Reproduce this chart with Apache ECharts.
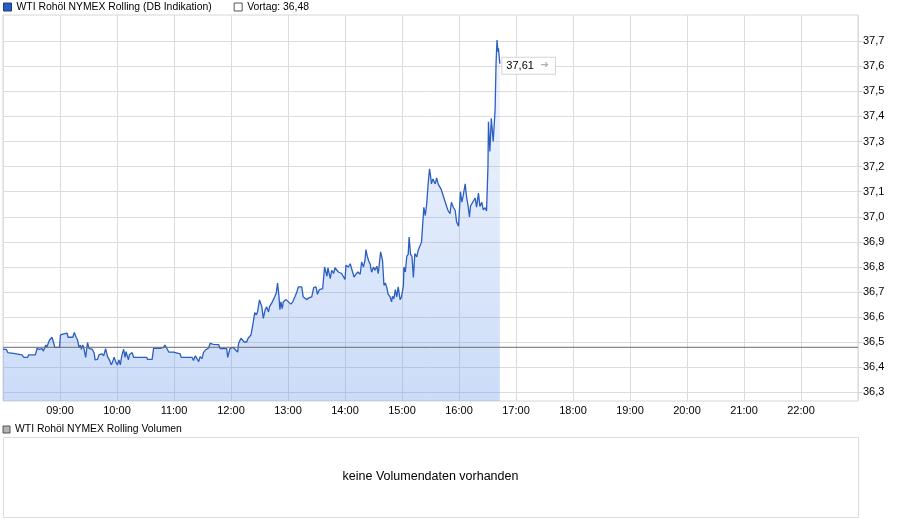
<!DOCTYPE html>
<html>
<head>
<meta charset="utf-8">
<title>WTI Rohöl NYMEX Rolling</title>
<script src="https://cdn.jsdelivr.net/npm/echarts@6/dist/echarts.min.js"></script>
<style>
  html, body { margin: 0; padding: 0; background: #fff; }
  #chart { width: 900px; height: 526px; }
</style>
</head>
<body>
<div id="chart"></div>
<script>
// Minuten nach 08:00 und Kurs
const minutes = [
  0, 3.5, 5, 11, 13, 20, 22, 26, 27, 34, 36, 38.5, 41, 42.5, 45, 46, 49, 51.5, 53.5, 54.5,
  59.5, 60.5, 64, 66, 67.5, 68.5, 73.5, 75, 77, 78.5, 80, 81.5, 82.5, 84, 85.5, 87, 89, 90.5, 92, 94,
  96, 97, 99.5, 101, 104, 106, 108, 110, 112, 114, 115.5, 117, 119, 120.5, 122, 123.5, 125, 127, 128.5, 129.5,
  132, 133, 134.5, 136, 137.5, 151.5, 152, 157, 158.5, 162, 163.5, 165.5, 167, 169, 170.5, 172.5, 174.5, 179.5, 181.5, 186.5,
  187.5, 199, 200.5, 202.5, 204, 206, 207.5, 209.5, 211, 213, 214.5, 216.5, 218, 219.5, 221.5, 227, 228.5, 235.5, 236.5, 239,
  242.5, 244, 245.5, 247, 248, 250.5, 252.5, 254, 256.5, 258, 259.5, 261, 262, 263.5, 265, 266.5, 268, 270,
  272.5, 274, 276, 277.5, 279.5, 280.5, 282, 283.5, 284.5, 286, 287.5, 289, 290.5, 291.5, 292.5, 294, 295, 298, 300.5, 303,
  305, 307.5, 309, 311, 314.5, 316, 319.5, 322.5, 325, 327, 329.5, 331, 333, 334.5, 336.5, 338.5, 341, 342, 344.5, 346,
  348, 349.5, 351.5, 353, 355, 356.5, 358.5, 360, 361, 363.5, 365.5, 367, 369.5, 371.5, 373.5, 376, 377.5, 379.5, 381, 382,
  383.5, 385, 386.5, 388, 390, 391.5, 393.5, 395, 396, 397.5, 399.5, 401, 402.5, 404, 405.5, 407.5, 409, 410, 411.5, 413,
  414.5, 416, 418, 419.5, 421.5, 422, 423.5, 425, 426.5, 427.5, 429, 430.5, 432, 433.5, 435.5, 437, 439, 440.5, 441.5, 443,
  444.5, 446, 447.5, 449, 450, 451, 452.5, 453.5, 455, 456.5, 458, 460, 461.5, 463.5, 465, 467, 468.5, 470.5, 472, 474,
  476, 477.5, 479.5, 480.5, 481.5, 483, 484.5, 486.5, 488, 489.5, 491, 492, 493.5, 495, 497, 498.5, 500.5, 502, 504, 505.5,
  507.5, 509, 510, 510.5, 511, 512.5, 514, 514.5, 516, 518, 519, 520, 521, 521.5, 523
];
const prices = [
  36.473, 36.472, 36.459, 36.456, 36.451, 36.45, 36.44, 36.44, 36.45, 36.45, 36.476, 36.472, 36.475, 36.465, 36.489, 36.48, 36.509, 36.52, 36.496, 36.48,
  36.48, 36.529, 36.533, 36.54, 36.536, 36.52, 36.52, 36.539, 36.52, 36.509, 36.48, 36.489, 36.472, 36.489, 36.469, 36.44, 36.499, 36.476, 36.469, 36.472,
  36.456, 36.43, 36.432, 36.45, 36.454, 36.446, 36.475, 36.443, 36.43, 36.41, 36.423, 36.44, 36.419, 36.41, 36.43, 36.41, 36.446, 36.472, 36.44, 36.463,
  36.43, 36.45, 36.446, 36.459, 36.44, 36.44, 36.432, 36.432, 36.476, 36.476, 36.469, 36.476, 36.472, 36.48, 36.489, 36.475, 36.461, 36.461, 36.456, 36.454,
  36.44, 36.44, 36.427, 36.446, 36.436, 36.423, 36.443, 36.435, 36.459, 36.469, 36.472, 36.477, 36.496, 36.489, 36.492, 36.491, 36.475, 36.475, 36.44, 36.476,
  36.48, 36.472, 36.467, 36.461, 36.496, 36.516, 36.52, 36.501, 36.501, 36.516, 36.512, 36.529, 36.549, 36.582, 36.618, 36.609, 36.622, 36.669,
  36.641, 36.595, 36.63, 36.641, 36.621, 36.641, 36.638, 36.661, 36.668, 36.681, 36.694, 36.736, 36.683, 36.63, 36.661, 36.634, 36.661, 36.67, 36.661, 36.652,
  36.661, 36.683, 36.697, 36.721, 36.721, 36.681, 36.67, 36.678, 36.681, 36.718, 36.721, 36.691, 36.71, 36.707, 36.714, 36.8, 36.763, 36.797, 36.754, 36.787,
  36.774, 36.797, 36.793, 36.78, 36.787, 36.774, 36.771, 36.75, 36.807, 36.8, 36.813, 36.793, 36.76, 36.771, 36.78, 36.771, 36.82, 36.8, 36.826, 36.869,
  36.842, 36.824, 36.811, 36.779, 36.8, 36.787, 36.803, 36.774, 36.776, 36.86, 36.826, 36.727, 36.736, 36.718, 36.691, 36.681, 36.661, 36.683, 36.674, 36.71,
  36.681, 36.721, 36.67, 36.681, 36.727, 36.8, 36.78, 36.842, 36.85, 36.919, 36.85, 36.842, 36.758, 36.853, 36.84, 36.866, 36.869, 36.899, 36.952, 37.038,
  37.005, 37.052, 37.131, 37.191, 37.164, 37.131, 37.151, 37.142, 37.131, 37.155, 37.131, 37.131, 37.107, 37.102, 37.065, 37.041, 37.025, 37.012, 37.058, 37.038,
  37.025, 36.979, 36.962, 37.028, 37.1, 37.058, 37.085, 37.131, 37.078, 37.045, 36.999, 37.041, 37.052, 37.045, 37.075, 37.038, 37.094, 37.041, 37.058, 37.028,
  37.036, 37.023, 37.019, 37.2, 37.379, 37.26, 37.392, 37.396, 37.3, 37.426, 37.611, 37.704, 37.658, 37.671, 37.61
];
const prevClose = 36.48;
const yTicks = [36.3, 36.4, 36.5, 36.6, 36.7, 36.8, 36.9, 37.0, 37.1, 37.2, 37.3, 37.4, 37.5, 37.6, 37.7];
const hourLabels = ['09:00', '10:00', '11:00', '12:00', '13:00', '14:00', '15:00', '16:00', '17:00', '18:00', '19:00', '20:00', '21:00', '22:00'];

const FONT = '"Liberation Sans", Arial, sans-serif';
const START = 8 * 60; // 08:00

function toMin(s) {
  const p = s.split(':');
  return +p[0] * 60 + +p[1];
}
function fmtTime(v) {
  const h = Math.floor(v / 60), m = v % 60;
  return (h < 10 ? '0' : '') + h + ':' + (m < 10 ? '0' : '') + m;
}
function deNum(v, d) {
  return v.toFixed(d).replace('.', ',');
}

const priceData = minutes.map((m, i) => [START + m, prices[i]]);

const chart = echarts.init(document.getElementById('chart'));
chart.setOption({
  animation: false,
  textStyle: { fontFamily: FONT },
  legend: {
    left: 3,
    top: 2,
    padding: 0,
    icon: 'rect',
    itemWidth: 8,
    itemHeight: 8,
    itemGap: 22,
    selectedMode: false,
    textStyle: { fontSize: 10.4, color: '#000', fontFamily: FONT },
    data: [
      { name: 'WTI Rohöl NYMEX Rolling (DB Indikation)', itemStyle: { color: '#2b5cc2', borderColor: '#1c3c82', borderWidth: 1 } },
      { name: 'Vortag: 36,48', itemStyle: { color: '#fff', borderColor: '#555', borderWidth: 1 } }
    ]
  },
  grid: {
    left: 3,
    right: 42,
    top: 15,
    bottom: 125,
    show: true,
    borderColor: '#d6d6d6',
    borderWidth: 1
  },
  xAxis: {
    type: 'value',
    min: START,
    max: 23 * 60,
    interval: 60,
    axisLine: { show: false },
    axisTick: { show: false },
    splitLine: { show: true, lineStyle: { color: '#dcdcdc', width: 1 } },
    axisLabel: {
      customValues: hourLabels.map(toMin),
      formatter: v => fmtTime(v),
      color: '#000',
      fontSize: 11,
      margin: 4,
      fontFamily: FONT
    }
  },
  yAxis: {
    type: 'value',
    position: 'right',
    min: 36.266,
    max: 37.804,
    axisLine: { show: false },
    axisTick: { show: true, length: 4, customValues: yTicks, lineStyle: { color: '#cfcfcf' } },
    splitLine: { show: true, lineStyle: { color: '#dcdcdc', width: 1 } },
    axisLabel: {
      customValues: yTicks,
      formatter: v => deNum(v, 1),
      color: '#000',
      fontSize: 11,
      margin: 5,
      fontFamily: FONT
    }
  },
  series: [
    {
      name: 'WTI Rohöl NYMEX Rolling (DB Indikation)',
      type: 'line',
      data: priceData,
      showSymbol: false,
      symbol: 'none',
      color: '#2b5cc2',
      lineStyle: { color: '#2b5ec2', width: 1.3 },
      areaStyle: {
        origin: 'start',
        color: new echarts.graphic.LinearGradient(0, 0, 0, 1, [
          { offset: 0, color: 'rgba(110,160,240,0.15)' },
          { offset: 0.7, color: 'rgba(100,150,235,0.36)' },
          { offset: 1, color: 'rgba(100,150,235,0.48)' }
        ])
      },
      endLabel: {
        show: true,
        formatter: p => '{v|' + deNum(p.value[1], 2) + '}  {a|➔}',
        backgroundColor: '#fff',
        borderColor: '#d4d4d4',
        borderWidth: 1,
        padding: [2, 6, 2, 4],
        distance: 2.5,
        offset: [0, 2],
        rich: {
          v: { fontSize: 11, lineHeight: 12, color: '#000', fontFamily: FONT },
          a: { fontSize: 10, lineHeight: 12, color: '#b0b0b0', fontFamily: '"DejaVu Sans", sans-serif' }
        }
      },
      z: 3
    },
    {
      name: 'Vortag: 36,48',
      type: 'line',
      data: [[START, prevClose], [23 * 60, prevClose]],
      showSymbol: false,
      symbol: 'none',
      color: '#fff',
      lineStyle: { color: '#6a6a6a', width: 1 },
      silent: true,
      z: 4
    }
  ],
  graphic: [
    {
      type: 'rect',
      shape: { x: 3, y: 426, width: 7, height: 7 },
      style: { fill: '#b4b4b4', stroke: '#555', lineWidth: 1 }
    },
    {
      type: 'text',
      x: 15,
      y: 429.5,
      style: { text: 'WTI Rohöl NYMEX Rolling Volumen', fontSize: 10.4, fontFamily: FONT, fill: '#000', verticalAlign: 'middle' }
    },
    {
      type: 'rect',
      shape: { x: 3.5, y: 437.5, width: 855, height: 80 },
      style: { fill: '#fff', stroke: '#dcdcdc', lineWidth: 1 }
    },
    {
      type: 'text',
      x: 430.5,
      y: 477,
      style: { text: 'keine Volumendaten vorhanden', fontSize: 12.5, fontFamily: FONT, fill: '#000', align: 'center', verticalAlign: 'middle' }
    }
  ]
});
</script>
</body>
</html>
